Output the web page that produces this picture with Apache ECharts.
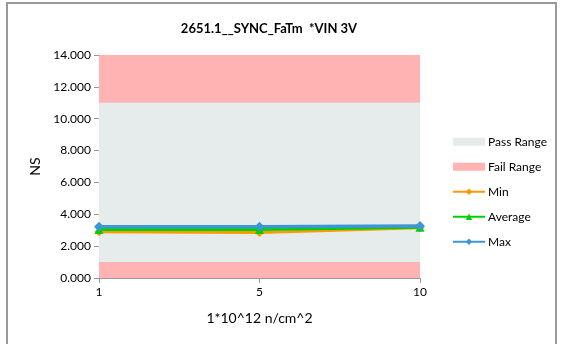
<!DOCTYPE html>
<html>
<head>
<meta charset="utf-8">
<script src="https://cdn.jsdelivr.net/npm/echarts@6/dist/echarts.min.js"></script>
<style>
html,body{margin:0;padding:0;background:#fff;}
#main{width:563px;height:344px;}
</style>
</head>
<body>
<div id="main"></div>
<script>
var categories = ['1', '5', '10'];
var minData = [2.90, 2.86, 3.15];
var avgData = [3.05, 3.05, 3.18];
var maxData = [3.22, 3.22, 3.26];
// limits of the pass band, the rest up to the axis max is fail
var failLow = [1, 1, 1];
var passBand = [10, 10, 10];
var failHigh = [3, 3, 3];

var font = 'Lato, "Open Sans", sans-serif';

var chart = echarts.init(document.getElementById('main'));
var option = {
    backgroundColor: '#fff',
    animation: false,
    textStyle: { fontFamily: font },
    title: {
        text: '2651.1__SYNC_FaTm  *VIN 3V',
        left: 264,
        textAlign: 'center',
        top: 17,
        textStyle: { fontSize: 13, fontWeight: 'bold', color: '#000', fontFamily: font }
    },
    graphic: [{
        type: 'rect',
        shape: { x: 7, y: 3, width: 549, height: 350 },
        style: { fill: 'none', stroke: '#999', lineWidth: 2 },
        silent: true
    }],
    legend: {
        orient: 'vertical',
        left: 452,
        top: 135,
        padding: 0,
        itemWidth: 32,
        itemHeight: 8,
        itemGap: 11.5,
        textStyle: { fontSize: 12, lineHeight: 13.5, color: '#000', fontFamily: font, padding: [0, 0, 0, -2] },
        data: [
            { name: 'Pass Range', icon: 'rect' },
            { name: 'Fail Range', icon: 'rect' },
            'Min', 'Average', 'Max'
        ]
    },
    grid: { left: 99, right: 143, top: 55, bottom: 66 },
    xAxis: {
        type: 'category',
        data: categories,
        boundaryGap: false,
        name: '1*10^12 n/cm^2',
        nameLocation: 'middle',
        nameGap: 33,
        nameTextStyle: { fontSize: 14, color: '#000' },
        axisLine: { lineStyle: { color: '#999' } },
        axisTick: { alignWithLabel: true, lineStyle: { color: '#999' } },
        axisLabel: { color: '#000', fontSize: 12, margin: 8 }
    },
    yAxis: {
        type: 'value',
        min: 0,
        max: 14,
        interval: 2,
        name: 'NS',
        nameLocation: 'middle',
        nameGap: 53,
        nameTextStyle: { fontSize: 14, color: '#000' },
        axisLine: { show: true, lineStyle: { color: '#999' } },
        axisTick: { show: true, lineStyle: { color: '#999' } },
        splitLine: { show: false },
        axisLabel: {
            color: '#000', fontSize: 12,
            formatter: function (v) { return v.toFixed(3); }
        }
    },
    series: [
        {
            name: 'Fail Range', type: 'line', stack: 'band', data: failLow,
            symbol: 'none', lineStyle: { width: 0 },
            itemStyle: { color: '#FFB3B3' },
            areaStyle: { color: '#FFB3B3', opacity: 1 }, z: 1
        },
        {
            name: 'Pass Range', type: 'line', stack: 'band', data: passBand,
            symbol: 'none', lineStyle: { width: 0 },
            itemStyle: { color: '#E6EBEB' },
            areaStyle: { color: '#E6EBEB', opacity: 1 }, z: 1
        },
        {
            name: 'Fail Range', type: 'line', stack: 'band', data: failHigh,
            symbol: 'none', lineStyle: { width: 0 },
            itemStyle: { color: '#FFB3B3' },
            areaStyle: { color: '#FFB3B3', opacity: 1 }, z: 1
        },
        {
            name: 'Min', type: 'line', data: minData,
            symbol: 'diamond', symbolSize: 9,
            itemStyle: { color: '#FF9900' },
            lineStyle: { width: 3, color: '#FF9900' }, z: 3
        },
        {
            name: 'Average', type: 'line', data: avgData,
            symbol: 'triangle', symbolSize: 9,
            itemStyle: { color: '#00D000' },
            lineStyle: { width: 3, color: '#00D000' }, z: 4
        },
        {
            name: 'Max', type: 'line', data: maxData,
            symbol: 'diamond', symbolSize: 10,
            itemStyle: { color: '#3C98D4' },
            lineStyle: { width: 3.5, color: '#3C98D4' }, z: 5
        }
    ]
};
chart.setOption(option);
</script>
</body>
</html>
